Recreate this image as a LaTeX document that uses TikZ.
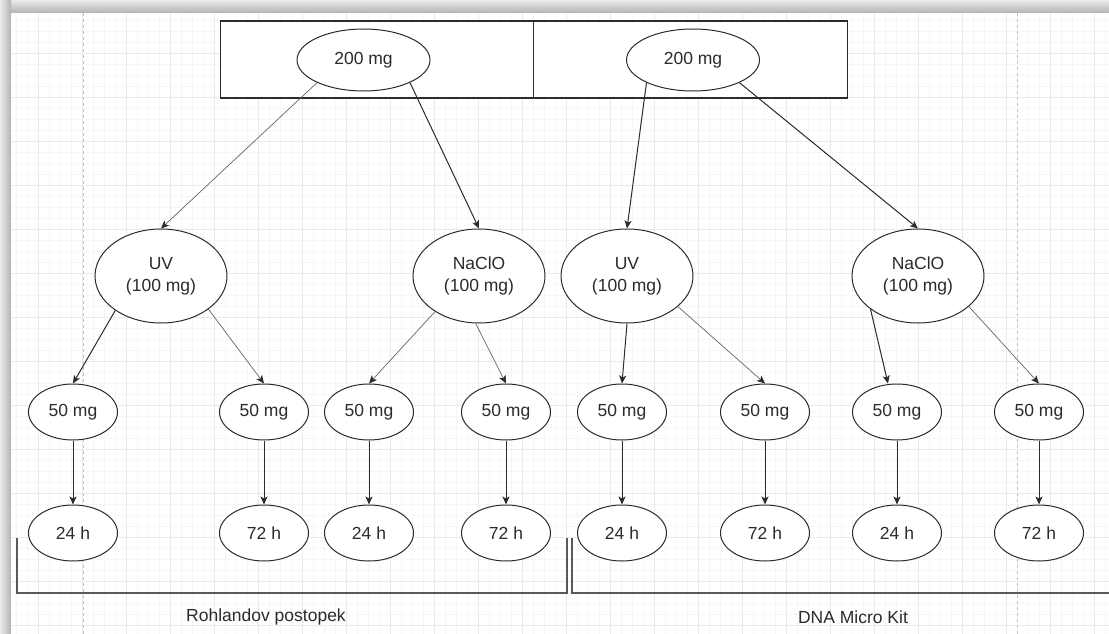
\documentclass[tikz,border=0pt]{standalone}
\usepackage{fontspec}
\setmainfont{Liberation Sans}
\usepackage{tikz}
\usetikzlibrary{shapes.geometric, arrows.meta, positioning, calc}
\usepackage{xcolor}
\definecolor{inkdark}{HTML}{2B2B2B}
\definecolor{inklight}{HTML}{666666}
\definecolor{gridminor}{HTML}{F6F6F6}
\definecolor{gridmajor}{HTML}{EAEAEA}
\definecolor{pagebreak}{HTML}{C4C4C4}

\tikzset{
  sample/.style={ellipse, draw=inkdark, fill=white, line width=1pt, text=inkdark, font=\fontsize{17.5}{22}\selectfont, inner sep=0pt, align=center},
  dosenode/.style={sample, minimum width=133pt, minimum height=62pt},
  treatnode/.style={sample, minimum width=132pt, minimum height=94pt},
  partnode/.style={sample, minimum width=89pt, minimum height=56pt},
  cellbox/.style={draw=inkdark, fill=white, line width=1.2pt, minimum width=313.5pt, minimum height=77pt, inner sep=0pt},
  darkarrow/.style={draw=inkdark, line width=1pt, -{Stealth[length=8pt,width=7pt,inset=2pt,color=inkdark]}},
  lightarrow/.style={draw=inklight, line width=0.7pt, -{Stealth[length=8pt,width=7pt,inset=2pt,color=inkdark]}},
  bracketline/.style={draw=black!65, line width=1.3pt},
  grouplabel/.style={text=inkdark, font=\fontsize{17.5}{22}\selectfont}
}

\begin{document}
\begin{tikzpicture}[x=1pt,y=-1pt]
  \useasboundingbox (0,0) rectangle (1109,634);
  % window shadow and page
  \shade[top color=black!8, bottom color=black!30] (0,0) rectangle (1109,13);
  \shade[left color=black!8, right color=black!30] (0,0) rectangle (11,634);
  \fill[white] (11,13) rectangle (1109,634);
  % grid
  \foreach \gx in {16,27,...,1109} \draw[gridminor, line width=0.6pt] (\gx,13) -- (\gx,634);
  \foreach \gy in {20,31,...,634} \draw[gridminor, line width=0.6pt] (11,\gy) -- (1109,\gy);
  \foreach \gx in {38,82,...,1109} \draw[gridmajor, line width=0.7pt] (\gx,13) -- (\gx,634);
  \foreach \gy in {53,97,...,634} \draw[gridmajor, line width=0.7pt] (11,\gy) -- (1109,\gy);
  \draw[pagebreak, dashed, line width=0.8pt] (83,13) -- (83,634);
  \draw[pagebreak, dashed, line width=0.8pt] (1017,13) -- (1017,634);

  % top cells
  \node[cellbox] (cellL) at (377.35,59.5) {};
  \node[cellbox] (cellR) at (690.5,59.5) {};

  \node[dosenode] (doseL) at (363.5,60) {200 mg};
  \node[dosenode] (doseR) at (693,60) {200 mg};

  \node[treatnode] (uvL) at (161,276) {UV\\(100 mg)};
  \node[treatnode] (naL) at (479,276) {NaClO\\(100 mg)};
  \node[treatnode] (uvR) at (627,276) {UV\\(100 mg)};
  \node[treatnode] (naR) at (918,276) {NaClO\\(100 mg)};

  % samples and times
  \foreach \i/\xx/\hh in {1/73/24,2/264/72,3/369/24,4/506/72,5/622/24,6/765/72,7/897/24,8/1039/72} {
    \node[partnode] (m\i) at (\xx,412) {50 mg};
    \node[partnode] (h\i) at (\xx,533) {\hh\ h};
    \draw[darkarrow] (m\i) -- (h\i);
  }

  \draw[lightarrow] (doseL.206) -- (uvL.north);
  \draw[darkarrow] (doseL.334) -- (naL.north);
  \draw[darkarrow] (doseR.206) -- (uvR.north);
  \draw[darkarrow] (doseR.334) -- (naR.north);
  \draw[darkarrow] (uvL.217) -- (m1.north);
  \draw[lightarrow] (uvL.325) -- (m2.north);
  \draw[lightarrow] (naL.219) -- (m3.north);
  \draw[lightarrow] (naL.266) -- (m4.north);
  \draw[darkarrow] (uvR.270) -- (m5.north);
  \draw[lightarrow] (uvR.329) -- (m6.north);
  \draw[darkarrow] (naR.215) -- ([xshift=-9pt]m7.north);
  \draw[lightarrow] (naR.329) -- (m8.north);

  % groups
  \draw[bracketline] (17,538) -- (17,593) -- (567,593) -- (567,538);
  \draw[bracketline] (572,538) -- (572,593) -- (1109,593);
  \node[grouplabel] (lblRohland) at (266,617) {Rohlandov postopek};
  \node[grouplabel] (lblKit) at (853,617) {DNA Micro Kit};
\end{tikzpicture}
\end{document}
